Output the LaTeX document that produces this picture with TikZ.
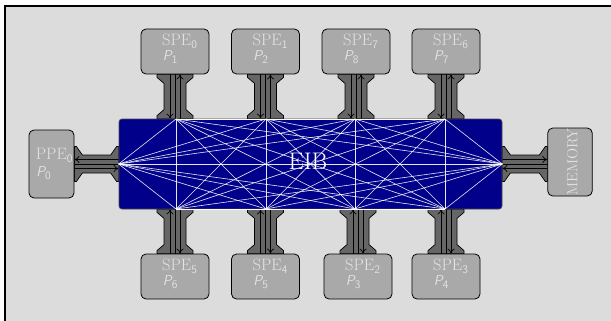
\documentclass[tikz,border=0pt]{standalone}
\usepackage{fontspec}
\usetikzlibrary{calc,arrows.meta}
\pgfdeclarelayer{back}
\pgfdeclarelayer{mid}
\pgfsetlayers{back,mid,main}
\definecolor{bgc}{HTML}{DCDCDC}
\definecolor{boxc}{HTML}{A9A9A9}
\definecolor{fatc}{HTML}{666666}
\definecolor{eibc}{HTML}{00008B}
\definecolor{txtc}{HTML}{E2E2E2}
\newcommand\fatvert[2]{%
  \filldraw[fatarrow] let \p1=(#1), \p2=(#2) in
   (\x1-18pt,\y1) -- (\x1-18pt,\y1-3pt) -- (\x1-11pt,\y1-9pt) -- (\x1-11pt,\y2+9pt)
   -- (\x1-18pt,\y2+3pt) -- (\x1-18pt,\y2) -- (\x1+18pt,\y2) -- (\x1+18pt,\y2+3pt)
   -- (\x1+11pt,\y2+9pt) -- (\x1+11pt,\y1-9pt) -- (\x1+18pt,\y1-3pt) -- (\x1+18pt,\y1) -- cycle;
  \draw[fatarrow] let \p1=(#1), \p2=(#2) in (\x1,\y1) -- (\x1,\y2);
}
\newcommand\fathorz[2]{%
  \filldraw[fatarrow] let \p1=(#1), \p2=(#2) in
   (\x1,\y1+17.5pt) -- (\x1+2pt,\y1+17.5pt) -- (\x1+8pt,\y1+9pt) -- (\x2-8pt,\y1+9pt)
   -- (\x2-2pt,\y1+17.5pt) -- (\x2,\y1+17.5pt) -- (\x2,\y1-17.5pt) -- (\x2-2pt,\y1-17.5pt)
   -- (\x2-8pt,\y1-9pt) -- (\x1+8pt,\y1-9pt) -- (\x1+2pt,\y1-17.5pt) -- (\x1,\y1-17.5pt) -- cycle;
  \draw[fatarrow] let \p1=(#1), \p2=(#2) in (\x1,\y1) -- (\x2,\y1);
}
\newcommand\psub[1]{\raisebox{-3pt}{\fontsize{11.5}{12}\selectfont\upshape #1}}
\begin{document}
\begin{tikzpicture}[x=1pt,y=-1pt,
  unit/.style={draw=black, fill=boxc, rounded corners=5pt, line width=0.8pt, inner sep=0pt},
  spebox/.style={unit, minimum width=68pt, minimum height=45pt},
  fatarrow/.style={draw=black, fill=fatc, line width=0.7pt},
  thinarrow/.style={draw=black, line width=0.7pt, -{To[length=5pt,width=7pt]}},
  lblA/.style={inner sep=0pt, anchor=base west, text=txtc, font=\fontsize{16.5}{18}\selectfont},
  lblB/.style={inner sep=0pt, anchor=base west, text=txtc, font=\fontsize{14.3}{15}\selectfont\sffamily\itshape},
  wire/.style={draw=white, line width=0.6pt, opacity=0.9}
]
\useasboundingbox (0,0) rectangle (611,321);
\begin{pgfonlayer}{back}
\fill[bgc] (5,6) rectangle (625,330);
\draw[line width=1.2pt] (5,330) -- (5,6) -- (625,6);
\end{pgfonlayer}

% boxes
\node[spebox] (spe0) at (175,51.5) {};
\node[spebox] (spe1) at (265.5,51.5) {};
\node[spebox] (spe7) at (356,51.5) {};
\node[spebox] (spe6) at (446,51.5) {};
\node[spebox] (spe5) at (175,276.5) {};
\node[spebox] (spe4) at (265.5,276.5) {};
\node[spebox] (spe2) at (358,276.5) {};
\node[spebox] (spe3) at (446,276.5) {};
\node[unit, minimum width=45pt, minimum height=68pt] (ppe) at (51.5,164) {};
\node[unit, minimum width=44.5pt, minimum height=68pt] (mem) at (570,162) {};
\node[draw=black!70, fill=eibc, rounded corners=3pt, minimum width=383pt, minimum height=90pt,
      inner sep=0pt, line width=0.7pt] (eib) at (310.5,164) {};

% fat arrows
\begin{pgfonlayer}{mid}
\fatvert{spe0.south}{spe0.south |- eib.north}
\fatvert{spe1.south}{spe1.south |- eib.north}
\fatvert{spe7.south}{spe7.south |- eib.north}
\fatvert{spe6.south}{spe6.south |- eib.north}
\fatvert{spe5.north |- eib.south}{spe5.north}
\fatvert{spe4.north |- eib.south}{spe4.north}
\fatvert{spe2.north |- eib.south}{spe2.north}
\fatvert{spe3.north |- eib.south}{spe3.north}
\fathorz{ppe.east |- eib.west}{eib.west}
\fathorz{eib.east}{mem.west |- eib.east}
\foreach \n in {spe0,spe1,spe7,spe6}{
  \draw[thinarrow] ($(\n.south)+(-5,0)$) -- ($(\n.south |- eib.north)+(-5,0)$);
  \draw[thinarrow] ($(\n.south |- eib.north)+(5,0)$) -- ($(\n.south)+(5,0)$);
}
\foreach \n in {spe5,spe4,spe2,spe3}{
  \draw[thinarrow] ($(\n.north)+(-5,0)$) -- ($(\n.north |- eib.south)+(-5,0)$);
  \draw[thinarrow] ($(\n.north |- eib.south)+(5,0)$) -- ($(\n.north)+(5,0)$);
}
\draw[thinarrow] ($(eib.west)+(0,-4.5)$) -- ($(ppe.east |- eib.west)+(0,-4.5)$);
\draw[thinarrow] ($(ppe.east |- eib.west)+(0,4.5)$) -- ($(eib.west)+(0,4.5)$);
\draw[thinarrow] ($(eib.east)+(0,-4.5)$) -- ($(mem.west |- eib.east)+(0,-4.5)$);
\draw[thinarrow] ($(mem.west |- eib.east)+(0,4.5)$) -- ($(eib.east)+(0,4.5)$);
\end{pgfonlayer}

% EIB wiring
\coordinate (t1) at (176,119);
\coordinate (t2) at (266,119);
\coordinate (t3) at (355,119);
\coordinate (t4) at (445,119);
\coordinate (b1) at (176,209);
\coordinate (b2) at (266,209);
\coordinate (b3) at (355,209);
\coordinate (b4) at (445,209);
\coordinate (l) at (eib.west);
\coordinate (r) at (eib.east);
\foreach \a [count=\i] in {t1,t2,t3,t4,b1,b2,b3,b4,l,r}{
  \foreach \b [count=\j] in {t1,t2,t3,t4,b1,b2,b3,b4,l,r}{
    \ifnum\j>\i \draw[wire] (\a) -- (\b); \fi
  }
}
\node[text=white, inner sep=0pt, font=\fontsize{24}{28}\selectfont] (eiblbl) at ($(eib.center)+(-2.5,-3)$) {EIB};

% labels
\node[lblA] (a0) at ($(spe0.north)+(-13,17.3)$) {SPE$_{\mathsf{0}}$};
\node[lblB] (c0) at ($(spe0.north)+(-12.3,32.3)$) {P\psub{1}};
\node[lblA] (a1) at ($(spe1.north)+(-13,17.3)$) {SPE$_{\mathsf{1}}$};
\node[lblB] (c1) at ($(spe1.north)+(-12.3,32.3)$) {P\psub{2}};
\node[lblA] (a7) at ($(spe7.north)+(-13,17.3)$) {SPE$_{\mathsf{7}}$};
\node[lblB] (c7) at ($(spe7.north)+(-12.3,32.3)$) {P\psub{8}};
\node[lblA] (a6) at ($(spe6.north)+(-13,17.3)$) {SPE$_{\mathsf{6}}$};
\node[lblB] (c6) at ($(spe6.north)+(-12.3,32.3)$) {P\psub{7}};
\node[lblA] (a5) at ($(spe5.north)+(-13,17.3)$) {SPE$_{\mathsf{5}}$};
\node[lblB] (c5) at ($(spe5.north)+(-12.3,32.3)$) {P\psub{6}};
\node[lblA] (a4) at ($(spe4.north)+(-13,17.3)$) {SPE$_{\mathsf{4}}$};
\node[lblB] (c4) at ($(spe4.north)+(-12.3,32.3)$) {P\psub{5}};
\node[lblA] (a2) at ($(spe2.north)+(-13,17.3)$) {SPE$_{\mathsf{2}}$};
\node[lblB] (c2) at ($(spe2.north)+(-12.3,32.3)$) {P\psub{3}};
\node[lblA] (a3) at ($(spe3.north)+(-13,17.3)$) {SPE$_{\mathsf{3}}$};
\node[lblB] (c3) at ($(spe3.north)+(-12.3,32.3)$) {P\psub{4}};
\node[lblA] (ap) at ($(ppe.north west)+(7,30)$) {PPE$_{\mathsf{0}}$};
\node[lblB] (cp) at ($(ppe.north west)+(7.5,46.7)$) {P\psub{0}};
\node[rotate=90, text=txtc, inner sep=0pt, font=\fontsize{14.7}{16}\selectfont] (memlbl) at ($(mem.center)+(2.3,0)$) {MEMORY};
\end{tikzpicture}
\end{document}
